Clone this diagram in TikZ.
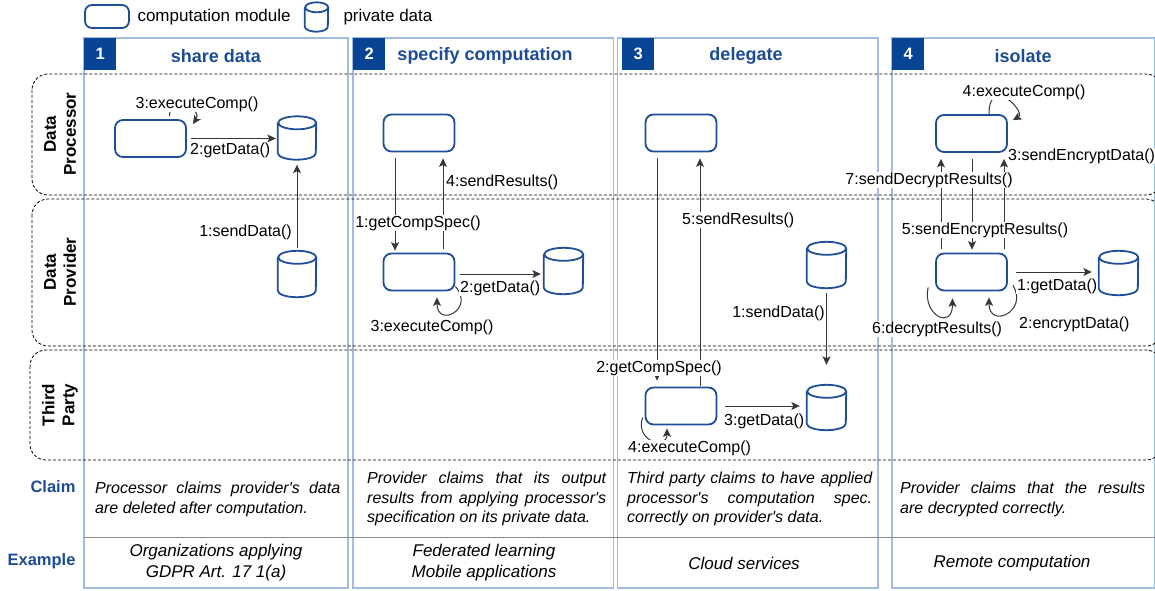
\documentclass[tikz,border=0pt]{standalone}
\usepackage{fontspec}
\setmainfont{Liberation Sans}
\usetikzlibrary{arrows.meta,calc}

\definecolor{modblue}{RGB}{30,78,152}
\definecolor{hdrblue}{RGB}{8,68,148}
\definecolor{ttlblue}{RGB}{28,76,150}
\definecolor{frameblue}{RGB}{162,188,224}
\definecolor{linegray}{RGB}{55,55,55}
\definecolor{rulegray}{RGB}{140,140,140}

\tikzset{
  module/.style={draw=modblue,line width=1.8pt,rounded corners=8pt,
    minimum width=71pt,minimum height=37pt,inner sep=0pt},
  dbnode/.style={inner sep=0pt},
  dbline/.style={draw=modblue,line width=1.8pt},
  msg/.style={draw=linegray,line width=1pt,-{Stealth[length=8.5pt,width=8pt,inset=2pt]}},
  lbl/.style={font=\fontsize{16}{19}\selectfont,fill=white,inner sep=1pt,text=black},
  lane/.style={draw=black,line width=0.8pt,dash pattern=on 3pt off 2pt,rounded corners=16pt},
  colframe/.style={draw=frameblue,line width=1.4pt},
  hdrnum/.style={fill=hdrblue,text=white,font=\bfseries\fontsize{16.5}{19}\selectfont,
    minimum size=32pt,inner sep=0pt,anchor=north west},
  hdrtitle/.style={text=ttlblue,font=\bfseries\fontsize{18}{21}\selectfont},
  lanelbl/.style={rotate=90,align=center,font=\bfseries\fontsize{17}{20}\selectfont},
  rowlbl/.style={text=ttlblue,font=\bfseries\fontsize{16.5}{19}\selectfont,anchor=east},
  claim/.style={font=\itshape\fontsize{16}{19.5}\selectfont,align=justify,
    inner sep=0pt,anchor=north west},
  example/.style={font=\itshape\fontsize{17}{21}\selectfont,align=center},
  legendtxt/.style={font=\fontsize{17}{20}\selectfont,anchor=west},
}

% data store: name, x, y, width, height, ellipse radius
\newcommand\dbstore[6]{%
  \node[dbnode,minimum width=#4pt,minimum height=#5pt] (#1) at (#2,#3) {};
  \draw[dbline] ([yshift=-#6pt]#1.north west) -- ([yshift=#6pt]#1.south west)
    arc[start angle=180,end angle=360,x radius=#4pt/2,y radius=#6pt]
    -- ([yshift=-#6pt]#1.north east)
    arc[start angle=0,end angle=180,x radius=#4pt/2,y radius=#6pt]
    arc[start angle=180,end angle=360,x radius=#4pt/2,y radius=#6pt];
}
\newcommand\apos{\textquotesingle}

\begin{document}
\begin{tikzpicture}[x=1pt,y=-1pt]
\useasboundingbox (0,0) rectangle (1155,590);

% ---------- legend ----------
\node[module,minimum width=44pt,minimum height=23pt,rounded corners=7pt] (legmod) at (107,16.5) {};
\node[legendtxt] (legmodtxt) at (134,17) {computation module};
\dbstore{legdb}{316.5}{17}{23}{29}{5}
\node[legendtxt] (legdbtxt) at (340,17) {private data};

% ---------- column frames ----------
\draw[colframe] (84,38) rectangle (348,588);
\draw[colframe] (353,38) rectangle (613.5,588);
\draw[colframe] (617.5,38) rectangle (878,588);
\draw[colframe] (892,38) rectangle (1154.5,588);

\node[hdrnum] (n1) at (84,38) {1};
\node[hdrnum] (n2) at (353,38) {2};
\node[hdrnum] (n3) at (622,38) {3};
\node[hdrnum] (n4) at (892,38) {4};
\node[hdrtitle] (t1) at (216,56) {share data};
\node[hdrtitle] (t2) at (485,56) {specify computation};
\node[hdrtitle] (t3) at (746,56) {delegate};
\node[hdrtitle] (t4) at (1023,56) {isolate};

% ---------- swimlanes ----------
\draw[lane] (32,74) rectangle (1162,195);
\draw[lane] (32,199) rectangle (1162,346);
\draw[lane] (30,350) rectangle (1162,460);
\node[lanelbl] (lp) at (60,134) {Data\\Processor};
\node[lanelbl] (lv) at (60,272) {Data\\Provider};
\node[lanelbl] (lt) at (60,405) {Third\\Party};

% ---------- claim / example rows ----------
\draw[rulegray,line width=1pt] (84,537) -- (1155,537);
\node[rowlbl] (rc) at (79,487) {Claim};
\node[rowlbl] (re) at (79,561) {Example};

\node[claim,text width=245pt] (c1) at (95,482) {Processor claims provider\apos s data\linebreak are deleted after computation.};
\node[claim,text width=239pt] (c2) at (367,472) {Provider claims that its output\linebreak results from applying processor\apos s\linebreak specification on its private data.};
\node[claim,text width=245pt] (c3) at (627,472) {Third party claims to have applied\linebreak processor\apos s computation spec.\linebreak correctly on provider\apos s data.};
\node[claim,text width=245pt] (c4) at (900,482) {Provider claims that the results\linebreak are decrypted correctly.};

\node[example] (e1) at (216,563) {Organizations applying\\GDPR Art. 17 1(a)};
\node[example] (e2) at (484,563) {Federated learning\\Mobile applications};
\node[example] (e3) at (744,563) {Cloud services};
\node[example] (e4) at (1012,563) {Remote computation};

% ---------- 1: share data ----------
\node[module] (pm1) at (150.5,138.5) {};
\dbstore{pd1}{297}{138}{38}{43}{6.5}
\dbstore{vd1}{297}{274}{38}{46}{6.5}
\draw[msg,shorten <=4pt,shorten >=2pt] (pm1.east) -- (pm1.east -| pd1.west);
\draw[msg,shorten <=3pt,shorten >=5pt] (vd1.north) -- (pd1.south);
\draw[msg,shorten <=3pt] ([xshift=19pt]pm1.north) .. controls +(0,-25) and +(10,-15) .. ([xshift=6pt,yshift=-5pt]pm1.north east);
\node[lbl] (m1c) at (197,104) {3:executeComp()};
\node[lbl,anchor=west] (m1b) at (189,150) {2:getData()};
\node[lbl,anchor=east] (m1a) at (293,232) {1:sendData()};

% ---------- 2: specify computation ----------
\node[module] (pm2) at (419,133) {};
\node[module] (vm2) at (419,272) {};
\dbstore{vd2}{563.5}{271}{39}{46}{6.5}
\draw[msg,shorten <=6pt,shorten >=2pt] ([xshift=-24pt]pm2.south) -- ([xshift=-24pt]vm2.north);
\draw[msg,shorten <=4pt,shorten >=6pt] ([xshift=24pt]vm2.north) -- ([xshift=24pt]pm2.south);
\draw[msg,shorten <=5pt,shorten >=3pt] ([yshift=-2pt]vm2.east) -- ([yshift=-2pt]vm2.east -| vd2.west);
\draw[msg] ([yshift=5pt]vm2.south east) .. controls +(20,23) and +(0,31) .. ([xshift=18pt,yshift=-6pt]vm2.south);
\node[lbl] (m2a) at (418,223) {1:getCompSpec()};
\node[lbl,anchor=west] (m2d) at (445,182) {4:sendResults()};
\node[lbl,anchor=west] (m2b) at (459,288) {2:getData()};
\node[lbl] (m2c) at (432,327) {3:executeComp()};

% ---------- 3: delegate ----------
\node[module] (pm3) at (681,133) {};
\node[module] (tm3) at (681,406) {};
\dbstore{vd3}{826.5}{265}{39}{46}{6.5}
\dbstore{td3}{826.5}{407.5}{39}{45}{6.5}
\draw[msg,shorten <=6pt,shorten >=6pt] ([xshift=-24pt]pm3.south) -- ([xshift=-24pt]tm3.north);
\draw[msg,shorten <=1pt,shorten >=6pt] ([xshift=19pt]tm3.north) -- ([xshift=19pt]pm3.south);
\draw[msg,shorten <=5pt,shorten >=20pt] (vd3.south) -- (td3.north);
\draw[msg,shorten <=8pt,shorten >=7pt] (tm3.east) -- (tm3.east -| td3.west);
\draw[msg] ([xshift=-2pt,yshift=8pt]tm3.south west) .. controls +(-8,24) and +(0,22) .. ([xshift=-14pt,yshift=-3pt]tm3.south);
\node[lbl] (m3b) at (659,368) {2:getCompSpec()};
\node[lbl,anchor=west] (m3e) at (681,220) {5:sendResults()};
\node[lbl,anchor=east] (m3a) at (826,313) {1:sendData()};
\node[lbl,anchor=west] (m3c) at (723,421) {3:getData()};
\node[lbl,anchor=west] (m3d) at (627,448) {4:executeComp()};

% ---------- 4: isolate ----------
\node[module] (pm4) at (971.5,133.5) {};
\node[module] (vm4) at (971.5,272) {};
\dbstore{vd4}{1118.5}{273}{39}{44}{6.5}
\draw[msg,shorten <=4pt,shorten >=6pt] ([xshift=-30.5pt]vm4.north) -- ([xshift=-30.5pt]pm4.south);
\draw[msg,shorten <=6pt,shorten >=3pt] ([xshift=0.5pt]pm4.south) -- ([xshift=0.5pt]vm4.north);
\draw[msg,shorten <=4pt,shorten >=6pt] ([xshift=32.5pt]vm4.north) -- ([xshift=32.5pt]pm4.south);
\draw[msg,shorten <=8pt,shorten >=7pt] (vm4.east) -- (vm4.east -| vd4.west);
\draw[msg] ([xshift=17.5pt]pm4.north) .. controls +(0,-40) and +(14,-8) .. ([xshift=5pt,yshift=-6pt]pm4.north east);
\draw[msg] ([xshift=-7pt,yshift=4pt]vm4.south west) .. controls +(-6,28) and +(0,32) .. ([xshift=-19pt,yshift=-7pt]vm4.south);
\draw[msg] ([xshift=5pt,yshift=6pt]vm4.south east) .. controls +(16,26) and +(0,32) .. ([xshift=17.5pt,yshift=-6pt]vm4.south);
\node[lbl] (m4d) at (1024,92) {4:executeComp()};
\node[lbl,anchor=west] (m4c) at (1007,156) {3:sendEncryptData()};
\node[lbl] (m4g) at (929,180) {7:sendDecryptResults()};
\node[lbl] (m4e) at (985,230) {5:sendEncryptResults()};
\node[lbl,anchor=west] (m4a) at (1016,286) {1:getData()};
\node[lbl] (m4f) at (937,329) {6:decryptResults()};
\node[lbl,anchor=west] (m4b) at (1018,324) {2:encryptData()};
\end{tikzpicture}
\end{document}
